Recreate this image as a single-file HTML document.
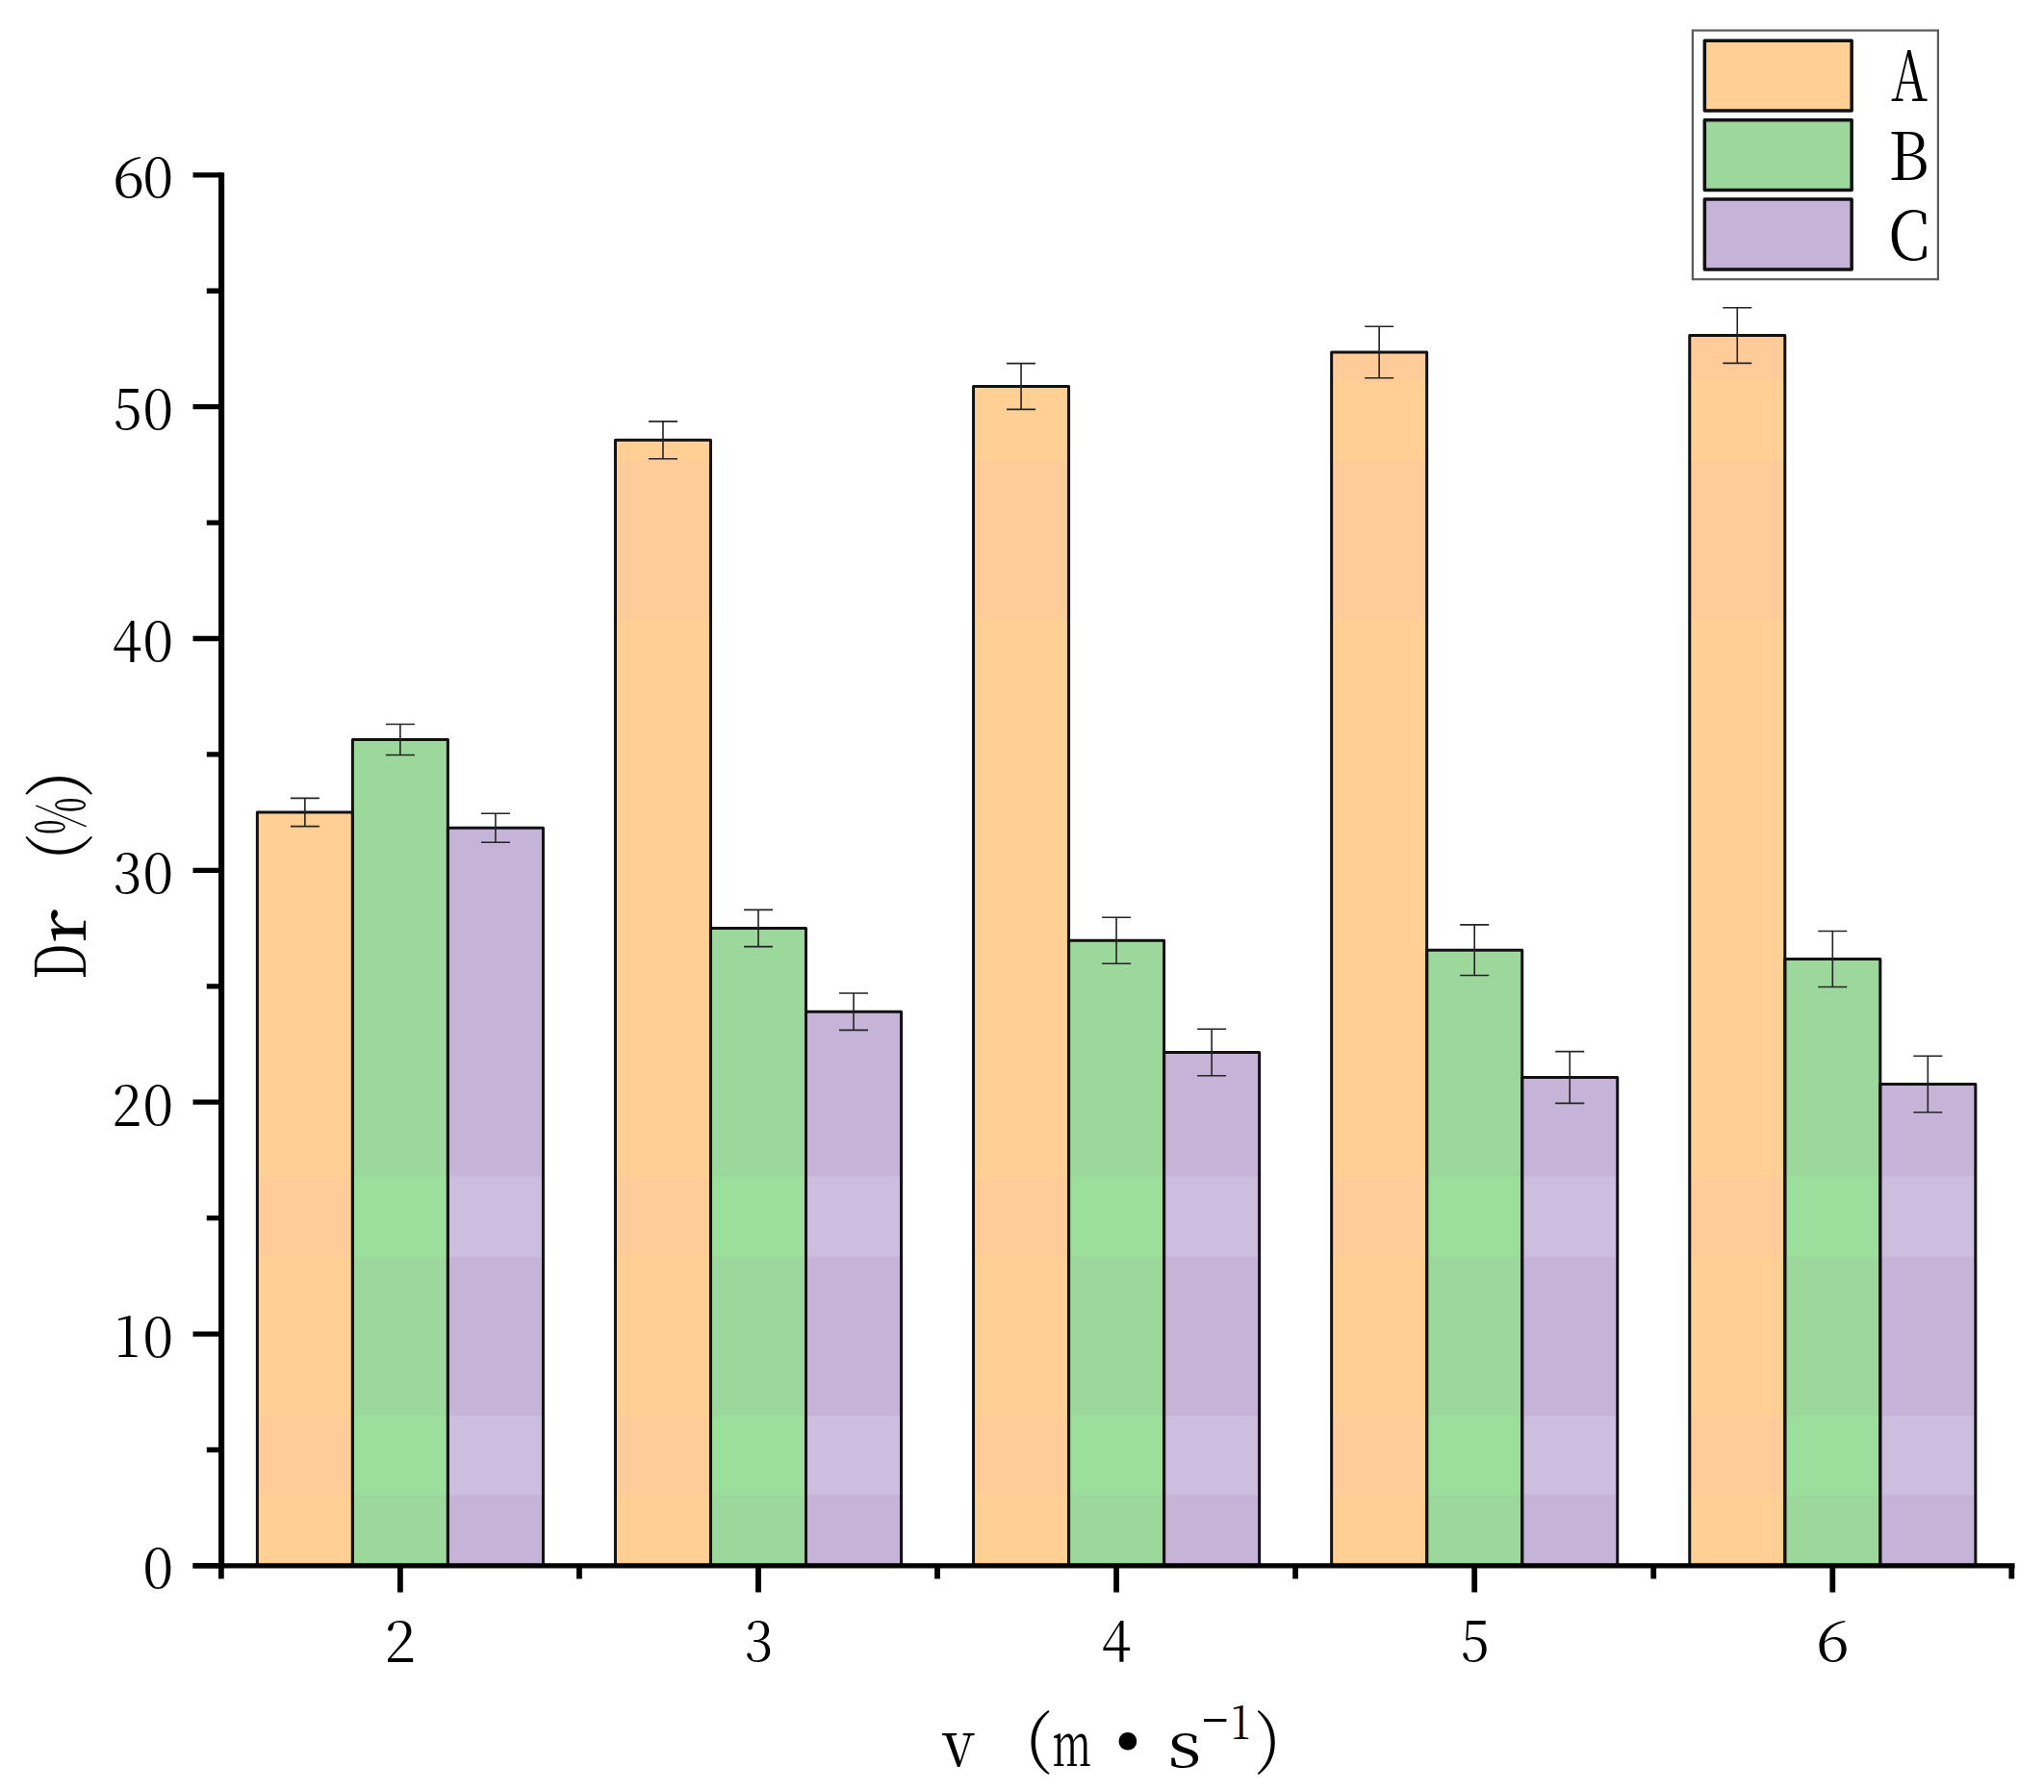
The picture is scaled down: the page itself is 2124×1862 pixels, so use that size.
<!DOCTYPE html>
<html lang="zh"><head><meta charset="utf-8"><title>Dr (%) vs v (m·s⁻¹)</title>
<style>html,body{margin:0;padding:0;background:#fff}body{width:2124px;height:1862px;overflow:hidden}svg{display:block}</style>
</head><body>
<svg width="2124" height="1862" viewBox="0 0 2124 1862">
<rect width="2124" height="1862" fill="#fff"/>
<g>
<rect x="267.35" y="844.00" width="99.03" height="782.90" fill="#FFCF94"/>
<rect x="267.35" y="1222.50" width="99.03" height="83.50" fill="#FFCC99"/>
<rect x="267.35" y="1471.00" width="99.03" height="82.30" fill="#FFCC99"/>
<rect x="366.38" y="768.50" width="99.03" height="858.40" fill="#9CD79C"/>
<rect x="366.38" y="1222.50" width="99.03" height="83.50" fill="#9BDF9B"/>
<rect x="366.38" y="1471.00" width="99.03" height="82.30" fill="#9BDF9B"/>
<rect x="465.41" y="860.30" width="99.03" height="766.60" fill="#C6B4D8"/>
<rect x="465.41" y="1222.50" width="99.03" height="83.50" fill="#CDBEDF"/>
<rect x="465.41" y="1471.00" width="99.03" height="82.30" fill="#CDBEDF"/>
<rect x="639.45" y="457.30" width="99.03" height="1169.60" fill="#FFCF94"/>
<rect x="639.45" y="1222.50" width="99.03" height="83.50" fill="#FFCC99"/>
<rect x="639.45" y="1471.00" width="99.03" height="82.30" fill="#FFCC99"/>
<rect x="639.45" y="478.00" width="99.03" height="167.00" fill="#FFCC99"/>
<rect x="738.48" y="964.50" width="99.03" height="662.40" fill="#9CD79C"/>
<rect x="738.48" y="1222.50" width="99.03" height="83.50" fill="#9BDF9B"/>
<rect x="738.48" y="1471.00" width="99.03" height="82.30" fill="#9BDF9B"/>
<rect x="837.51" y="1051.20" width="99.03" height="575.70" fill="#C6B4D8"/>
<rect x="837.51" y="1222.50" width="99.03" height="83.50" fill="#CDBEDF"/>
<rect x="837.51" y="1471.00" width="99.03" height="82.30" fill="#CDBEDF"/>
<rect x="1011.55" y="401.50" width="99.03" height="1225.40" fill="#FFCF94"/>
<rect x="1011.55" y="1222.50" width="99.03" height="83.50" fill="#FFCC99"/>
<rect x="1011.55" y="1471.00" width="99.03" height="82.30" fill="#FFCC99"/>
<rect x="1011.55" y="478.00" width="99.03" height="167.00" fill="#FFCC99"/>
<rect x="1110.58" y="977.30" width="99.03" height="649.60" fill="#9CD79C"/>
<rect x="1110.58" y="1222.50" width="99.03" height="83.50" fill="#9BDF9B"/>
<rect x="1110.58" y="1471.00" width="99.03" height="82.30" fill="#9BDF9B"/>
<rect x="1209.61" y="1093.50" width="99.03" height="533.40" fill="#C6B4D8"/>
<rect x="1209.61" y="1222.50" width="99.03" height="83.50" fill="#CDBEDF"/>
<rect x="1209.61" y="1471.00" width="99.03" height="82.30" fill="#CDBEDF"/>
<rect x="1383.66" y="366.00" width="99.03" height="1260.90" fill="#FFCF94"/>
<rect x="1383.66" y="1222.50" width="99.03" height="83.50" fill="#FFCC99"/>
<rect x="1383.66" y="1471.00" width="99.03" height="82.30" fill="#FFCC99"/>
<rect x="1383.66" y="478.00" width="99.03" height="167.00" fill="#FFCC99"/>
<rect x="1383.66" y="366.00" width="99.03" height="31.00" fill="#FFCC99"/>
<rect x="1482.69" y="987.20" width="99.03" height="639.70" fill="#9CD79C"/>
<rect x="1482.69" y="1222.50" width="99.03" height="83.50" fill="#9BDF9B"/>
<rect x="1482.69" y="1471.00" width="99.03" height="82.30" fill="#9BDF9B"/>
<rect x="1581.72" y="1119.50" width="99.03" height="507.40" fill="#C6B4D8"/>
<rect x="1581.72" y="1222.50" width="99.03" height="83.50" fill="#CDBEDF"/>
<rect x="1581.72" y="1471.00" width="99.03" height="82.30" fill="#CDBEDF"/>
<rect x="1755.76" y="348.60" width="99.03" height="1278.30" fill="#FFCF94"/>
<rect x="1755.76" y="1222.50" width="99.03" height="83.50" fill="#FFCC99"/>
<rect x="1755.76" y="1471.00" width="99.03" height="82.30" fill="#FFCC99"/>
<rect x="1755.76" y="478.00" width="99.03" height="167.00" fill="#FFCC99"/>
<rect x="1755.76" y="348.60" width="99.03" height="48.40" fill="#FFCC99"/>
<rect x="1854.79" y="996.50" width="99.03" height="630.40" fill="#9CD79C"/>
<rect x="1854.79" y="1222.50" width="99.03" height="83.50" fill="#9BDF9B"/>
<rect x="1854.79" y="1471.00" width="99.03" height="82.30" fill="#9BDF9B"/>
<rect x="1953.82" y="1126.50" width="99.03" height="500.40" fill="#C6B4D8"/>
<rect x="1953.82" y="1222.50" width="99.03" height="83.50" fill="#CDBEDF"/>
<rect x="1953.82" y="1471.00" width="99.03" height="82.30" fill="#CDBEDF"/>
<g stroke="#111" stroke-width="3.0" stroke-linejoin="round" fill="none">
<rect x="267.35" y="844.00" width="99.03" height="782.90"/>
<rect x="366.38" y="768.50" width="99.03" height="858.40"/>
<rect x="465.41" y="860.30" width="99.03" height="766.60"/>
<rect x="639.45" y="457.30" width="99.03" height="1169.60"/>
<rect x="738.48" y="964.50" width="99.03" height="662.40"/>
<rect x="837.51" y="1051.20" width="99.03" height="575.70"/>
<rect x="1011.55" y="401.50" width="99.03" height="1225.40"/>
<rect x="1110.58" y="977.30" width="99.03" height="649.60"/>
<rect x="1209.61" y="1093.50" width="99.03" height="533.40"/>
<rect x="1383.66" y="366.00" width="99.03" height="1260.90"/>
<rect x="1482.69" y="987.20" width="99.03" height="639.70"/>
<rect x="1581.72" y="1119.50" width="99.03" height="507.40"/>
<rect x="1755.76" y="348.60" width="99.03" height="1278.30"/>
<rect x="1854.79" y="996.50" width="99.03" height="630.40"/>
<rect x="1953.82" y="1126.50" width="99.03" height="500.40"/>
</g>
<g stroke="#242424" stroke-width="1.6" fill="none">
<path d="M316.87 829.40V858.60M301.87 829.40h30M301.87 858.60h30"/>
<path d="M415.90 752.50V784.50M400.90 752.50h30M400.90 784.50h30"/>
<path d="M514.93 845.30V875.30M499.93 845.30h30M499.93 875.30h30"/>
<path d="M688.97 437.90V476.70M673.97 437.90h30M673.97 476.70h30"/>
<path d="M788.00 945.40V983.60M773.00 945.40h30M773.00 983.60h30"/>
<path d="M887.03 1032.00V1070.40M872.03 1032.00h30M872.03 1070.40h30"/>
<path d="M1061.07 377.60V425.40M1046.07 377.60h30M1046.07 425.40h30"/>
<path d="M1160.10 953.30V1001.30M1145.10 953.30h30M1145.10 1001.30h30"/>
<path d="M1259.13 1069.20V1117.80M1244.13 1069.20h30M1244.13 1117.80h30"/>
<path d="M1433.17 339.30V392.70M1418.17 339.30h30M1418.17 392.70h30"/>
<path d="M1532.20 960.90V1013.50M1517.20 960.90h30M1517.20 1013.50h30"/>
<path d="M1631.23 1092.60V1146.40M1616.23 1092.60h30M1616.23 1146.40h30"/>
<path d="M1805.27 319.80V377.40M1790.27 319.80h30M1790.27 377.40h30"/>
<path d="M1904.30 967.50V1025.50M1889.30 967.50h30M1889.30 1025.50h30"/>
<path d="M2003.33 1097.20V1155.80M1988.33 1097.20h30M1988.33 1155.80h30"/>
</g>
<g stroke="#000" fill="none">
<path stroke-width="6.1" d="M230.1 179.15V1629.55"/>
<path stroke-width="5.3" d="M200.5 1626.9H2093.6"/>
<path stroke-width="5.3" d="M200.5 1626.90H230.1M214.8 1506.48H230.1M200.5 1386.05H230.1M214.8 1265.62H230.1M200.5 1145.20H230.1M214.8 1024.78H230.1M200.5 904.35H230.1M214.8 783.93H230.1M200.5 663.50H230.1M214.8 543.08H230.1M200.5 422.65H230.1M214.8 302.23H230.1M200.5 181.80H230.1"/>
<path stroke-width="5.8" d="M229.85 1626.9V1640.4M415.90 1626.9V1654.4M601.95 1626.9V1640.4M788.00 1626.9V1654.4M974.05 1626.9V1640.4M1160.10 1626.9V1654.4M1346.15 1626.9V1640.4M1532.20 1626.9V1654.4M1718.25 1626.9V1640.4M1904.30 1626.9V1654.4M2090.35 1626.9V1640.4"/>
</g>
<g fill="#000" font-family="'Noto Serif CJK SC','Liberation Serif',serif">
<text ><tspan x="148.63" y="1650.35" font-size="56.46" textLength="31.59" lengthAdjust="spacingAndGlyphs">0</tspan></text>
<text ><tspan x="119.26" y="1410.29" font-size="57.92" textLength="25.86" lengthAdjust="spacingAndGlyphs">1</tspan><tspan x="148.63" y="1409.50" font-size="56.46" textLength="31.59" lengthAdjust="spacingAndGlyphs">0</tspan></text>
<text ><tspan x="116.02" y="1169.50" font-size="57.60" textLength="31.21" lengthAdjust="spacingAndGlyphs">2</tspan><tspan x="148.63" y="1168.65" font-size="56.46" textLength="31.59" lengthAdjust="spacingAndGlyphs">0</tspan></text>
<text ><tspan x="117.45" y="927.80" font-size="56.46" textLength="30.22" lengthAdjust="spacingAndGlyphs">3</tspan><tspan x="148.63" y="927.80" font-size="56.46" textLength="31.59" lengthAdjust="spacingAndGlyphs">0</tspan></text>
<text ><tspan x="116.51" y="686.78" font-size="56.54" textLength="30.86" lengthAdjust="spacingAndGlyphs">4</tspan><tspan x="148.63" y="686.95" font-size="56.46" textLength="31.59" lengthAdjust="spacingAndGlyphs">0</tspan></text>
<text ><tspan x="117.64" y="446.09" font-size="57.60" textLength="29.97" lengthAdjust="spacingAndGlyphs">5</tspan><tspan x="148.63" y="446.10" font-size="56.46" textLength="31.59" lengthAdjust="spacingAndGlyphs">0</tspan></text>
<text ><tspan x="116.96" y="205.25" font-size="56.46" textLength="33.26" lengthAdjust="spacingAndGlyphs">6</tspan><tspan x="148.63" y="205.25" font-size="56.46" textLength="31.59" lengthAdjust="spacingAndGlyphs">0</tspan></text>
<text ><tspan x="399.25" y="1727.10" font-size="57.47" textLength="32.71" lengthAdjust="spacingAndGlyphs">2</tspan></text>
<text ><tspan x="773.55" y="1726.26" font-size="56.33" textLength="30.22" lengthAdjust="spacingAndGlyphs">3</tspan></text>
<text ><tspan x="1144.51" y="1726.08" font-size="56.41" textLength="30.86" lengthAdjust="spacingAndGlyphs">4</tspan></text>
<text ><tspan x="1517.74" y="1726.24" font-size="57.47" textLength="29.97" lengthAdjust="spacingAndGlyphs">5</tspan></text>
<text ><tspan x="1886.91" y="1726.26" font-size="56.33" textLength="34.74" lengthAdjust="spacingAndGlyphs">6</tspan></text>
</g>
<rect x="1758.9" y="31.6" width="255.0" height="258.6" fill="#fff" stroke="#5a5a5a" stroke-width="2.2"/>
<rect x="1771.35" y="42.20" width="152.8" height="72.9" fill="#FFCF94" stroke="#111" stroke-width="3.5" stroke-linejoin="round"/>
<text font-family="'Noto Serif CJK SC','Liberation Serif',serif"><tspan x="1964.96" y="104.70" font-size="72.07" textLength="38.01" lengthAdjust="spacingAndGlyphs">A</tspan></text>
<rect x="1771.35" y="124.70" width="152.8" height="72.9" fill="#9CD79C" stroke="#111" stroke-width="3.5" stroke-linejoin="round"/>
<text font-family="'Noto Serif CJK SC','Liberation Serif',serif"><tspan x="1962.25" y="186.70" font-size="68.68" textLength="42.33" lengthAdjust="spacingAndGlyphs">B</tspan></text>
<rect x="1771.35" y="207.10" width="152.8" height="72.9" fill="#C6B4D8" stroke="#111" stroke-width="3.5" stroke-linejoin="round"/>
<text font-family="'Noto Serif CJK SC','Liberation Serif',serif"><tspan x="1962.13" y="269.79" font-size="69.51" textLength="42.83" lengthAdjust="spacingAndGlyphs">C</tspan></text>
<text transform="translate(89 0) rotate(-90)" font-family="'Noto Serif CJK SC','Liberation Serif',serif" fill="#000"><tspan x="-1017.53" y="0.00" font-size="72.66" textLength="36.75" lengthAdjust="spacingAndGlyphs">D</tspan><tspan x="-980.26" y="0.00" font-size="68.17" textLength="35.42" lengthAdjust="spacingAndGlyphs">r</tspan><tspan x="-930.59" y="-0.24" font-size="74.36" textLength="65.73" lengthAdjust="spacingAndGlyphs">（</tspan><tspan x="-867.62" y="-1.36" font-size="69.84" textLength="39.34" lengthAdjust="spacingAndGlyphs">%</tspan><tspan x="-830.04" y="-0.24" font-size="74.36" textLength="65.73" lengthAdjust="spacingAndGlyphs">）</tspan></text>
<text font-family="'Noto Serif CJK SC','Liberation Serif',serif" fill="#000"><tspan x="979.59" y="1836.46" font-size="67.56" textLength="33.46" lengthAdjust="spacingAndGlyphs">v</tspan><tspan x="1028.02" y="1836.62" font-size="71.37" textLength="66.78" lengthAdjust="spacingAndGlyphs">（</tspan><tspan x="1093.50" y="1835.30" font-size="64.41" textLength="40.57" lengthAdjust="spacingAndGlyphs">m</tspan><tspan x="1091.63" y="1870.33" font-size="160.34" textLength="160.34" lengthAdjust="spacingAndGlyphs">•</tspan><tspan x="1213.26" y="1835.82" font-size="65.38" textLength="35.38" lengthAdjust="spacingAndGlyphs">s</tspan><tspan x="1249.34" y="1813.21" font-size="71.43" textLength="26.88" lengthAdjust="spacingAndGlyphs">−</tspan><tspan x="1278.94" y="1806.95" font-size="46.41" textLength="19.92" lengthAdjust="spacingAndGlyphs">1</tspan><tspan x="1302.81" y="1836.80" font-size="71.58" textLength="63.29" lengthAdjust="spacingAndGlyphs">）</tspan></text>
</g>
</svg>
</body></html>
